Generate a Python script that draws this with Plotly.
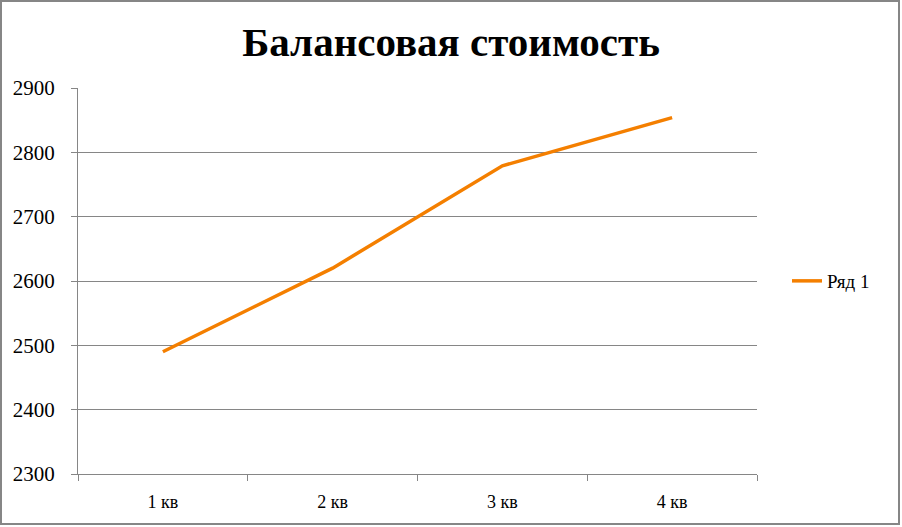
import plotly.graph_objects as go

categories = ["1 кв", "2 кв", "3 кв", "4 кв"]
values = [2490, 2620, 2779, 2854]
series_name = "Ряд 1"
title_text = "Балансовая стоимость"

W, H = 902, 527
ml, mr, mt, mb = 78, 145, 88, 53
pw, ph = W - ml - mr, H - mt - mb

fig = go.Figure()
fig.add_trace(go.Scatter(
    x=categories, y=values, mode="lines", name=series_name,
    line=dict(color="#F47F00", width=3.5),
))

grey = "#868686"
fig.update_layout(
    width=W, height=H,
    margin=dict(l=ml, r=mr, t=mt, b=mb),
    paper_bgcolor="white", plot_bgcolor="white",
    font=dict(family="Liberation Serif, DejaVu Serif, serif", color="black"),
    title=dict(text="<b>" + title_text + "</b>", x=0.5, xanchor="center",
               y=1 - 42 / H, yanchor="middle",
               font=dict(size=41, family="Liberation Serif, serif", color="black")),
    showlegend=True,
    legend=dict(x=1 + 30 / pw, y=0.5, xanchor="left", yanchor="middle",
                font=dict(size=19), bgcolor="rgba(0,0,0,0)"),
    xaxis=dict(type="category", showgrid=False, showline=True, linecolor=grey,
               linewidth=1, ticks="outside", tickson="boundaries", ticklen=6,
               tickcolor=grey, tickfont=dict(size=18), ticklabelstandoff=11,
               range=[-0.5, 3.5]),
    yaxis=dict(range=[2300, 2900], dtick=100, showgrid=True, gridcolor=grey,
               gridwidth=1, showline=True, linecolor=grey, linewidth=1,
               ticks="outside", ticklen=6, tickcolor=grey, zeroline=False,
               tickfont=dict(size=21), ticklabelstandoff=12),
)

fig.add_shape(type="rect", xref="paper", yref="paper",
              x0=-(ml - 1) / pw, x1=1 + (mr - 3) / pw,
              y0=-(mb - 3) / ph, y1=1 + (mt - 1) / ph,
              line=dict(color=grey, width=2), fillcolor="rgba(0,0,0,0)",
              layer="below")

fig.write_html("out.html", config={"displayModeBar": False},
               post_script="document.body.style.margin='0';document.body.style.overflow='hidden';")
